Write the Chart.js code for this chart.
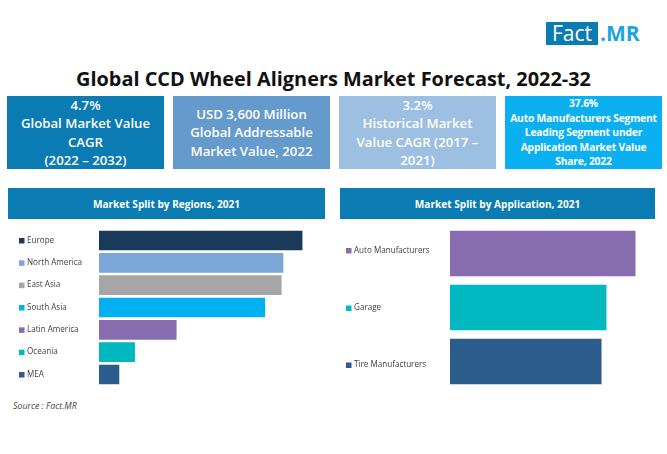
<!DOCTYPE html>
<html>
<head>
<meta charset="utf-8">
<script src="https://cdn.jsdelivr.net/npm/chart.js@4"></script>
<style>
  html, body { margin: 0; padding: 0; background: #fff; }
  body { position: relative; width: 667px; height: 454px; overflow: hidden; font-family: "Open Sans", sans-serif; }
  .abs { position: absolute; }
  .logo-fact { left: 546px; top: 22px; width: 52px; height: 23px; background: #0b7bb3; color: #fff; font-size: 21px; line-height: 23px; text-align: center; }
  .logo-mr { left: 600px; top: 22px; color: #1ca4dc; font-size: 21px; line-height: 23px; font-weight: 700; }
  .title { left: 0; top: 65px; width: 667px; text-align: center; font-size: 19.9px; line-height: 28px; font-weight: 700; color: #111; white-space: nowrap; }
  .kpi { top: 96px; width: 157px; height: 73px; color: #fff; display: flex; align-items: center; justify-content: center; text-align: center; font-weight: 600; font-size: 13.2px; line-height: 18.3px; }
  .kpi.small { font-size: 10.3px; line-height: 14.4px; font-weight: 700; letter-spacing: -0.2px; }
  .head { top: 188px; height: 31px; background: #0b7bb3; color: #fff; display: flex; align-items: center; justify-content: center; font-size: 10.1px; font-weight: 700; }
  .source { left: 13px; top: 400px; font-size: 8.8px; line-height: 12px; font-style: italic; color: #444; }
  canvas { position: absolute; }
</style>
</head>
<body>
<div class="abs logo-fact">Fact</div>
<div class="abs logo-mr">.MR</div>
<div class="abs title">Global CCD Wheel Aligners Market Forecast, 2022-32</div>

<div class="abs kpi" style="left:7px;background:#0b7bb3"><div>4.7%<br>Global Market Value<br>CAGR<br>(2022 – 2032)</div></div>
<div class="abs kpi" style="left:173px;background:#659acd"><div>USD 3,600 Million<br>Global Addressable<br>Market Value, 2022</div></div>
<div class="abs kpi" style="left:339px;background:#9dbfe1"><div>3.2%<br>Historical Market<br>Value CAGR (2017 –<br>2021)</div></div>
<div class="abs kpi small" style="left:505px;background:#0bb0f0"><div>37.6%<br>Auto Manufacturers Segment<br>Leading Segment under<br>Application Market Value<br>Share, 2022</div></div>

<div class="abs head" style="left:8px;width:317px">Market Split by Regions, 2021</div>
<div class="abs head" style="left:340px;width:315px">Market Split by Application, 2021</div>

<canvas id="regions" style="left:8px;top:220px;width:317px;height:175px"></canvas>
<canvas id="applications" style="left:340px;top:220px;width:315px;height:175px"></canvas>

<div class="abs source">Source : Fact.MR</div>

<script>
// --- DATA ---
const regionLabels = ["Europe", "North America", "East Asia", "South Asia", "Latin America", "Oceania", "MEA"];
const regionValues = [23.4, 21.2, 21.0, 19.1, 8.9, 4.1, 2.3];
const regionColors = ["#1a3a5a", "#7aa7d8", "#a6a6a6", "#00b0f0", "#876cb0", "#00b8c0", "#2b5d8c"];

const appLabels = ["Auto Manufacturers", "Garage", "Tire Manufacturers"];
const appValues = [37.6, 31.7, 30.7];
const appColors = ["#876cb0", "#00b8c0", "#2b5d8c"];

// Category labels with a small coloured square in front.
// In the original the labels don't sit exactly on the bar centres, hence the nudge.
const squareLabels = {
  id: "squareLabels",
  afterDraw(chart, args, opts) {
    const y = chart.scales.y;
    const ctx = chart.ctx;
    const colors = chart.data.datasets[0].backgroundColor;
    ctx.save();
    ctx.font = '8.1px "Open Sans"';
    ctx.textAlign = "left";
    ctx.textBaseline = "middle";
    chart.data.labels.forEach((label, i) => {
      const py = y.getPixelForTick(i) + (opts.nudge ? opts.nudge[i] : 0);
      ctx.fillStyle = colors[i];
      ctx.fillRect(y.left - 8, py - 2.5, 5.5, 5.5);
      ctx.fillStyle = "#404040";
      ctx.fillText(label, y.left, py);
    });
    ctx.restore();
  }
};

function barChart(id, labels, values, colors, o) {
  return new Chart(document.getElementById(id), {
    type: "bar",
    data: { labels, datasets: [{ data: values, backgroundColor: colors, barThickness: o.thickness }] },
    plugins: [squareLabels],
    options: {
      indexAxis: "y",
      responsive: false,
      animation: false,
      layout: { padding: o.padding },
      plugins: {
        legend: { display: false },
        tooltip: { enabled: false },
        squareLabels: { nudge: o.nudge }
      },
      scales: {
        x: { display: false, min: 0, max: o.max },
        y: {
          grid: { display: false },
          border: { display: false },
          ticks: { display: false },
          afterFit: s => {
            s.width = o.axisWidth;
            s.paddingTop = 0;
            s.paddingBottom = 0;
          }
        }
      }
    }
  });
}

function sizeCanvas(id) {
  const c = document.getElementById(id);
  c.width = parseInt(c.style.width);
  c.height = parseInt(c.style.height);
}
sizeCanvas("regions");
sizeCanvas("applications");

barChart("regions", regionLabels, regionValues, regionColors, {
  thickness: 19, max: 25, axisWidth: 72,
  padding: { left: 19, right: 9, top: 9.3, bottom: 9.3 }
});
barChart("applications", appLabels, appValues, appColors, {
  thickness: 45, max: 40, axisWidth: 96, nudge: [-3, 0.5, 3.5],
  padding: { left: 14, right: 8, top: 6.5, bottom: 6.5 }
});
</script>
</body>
</html>
